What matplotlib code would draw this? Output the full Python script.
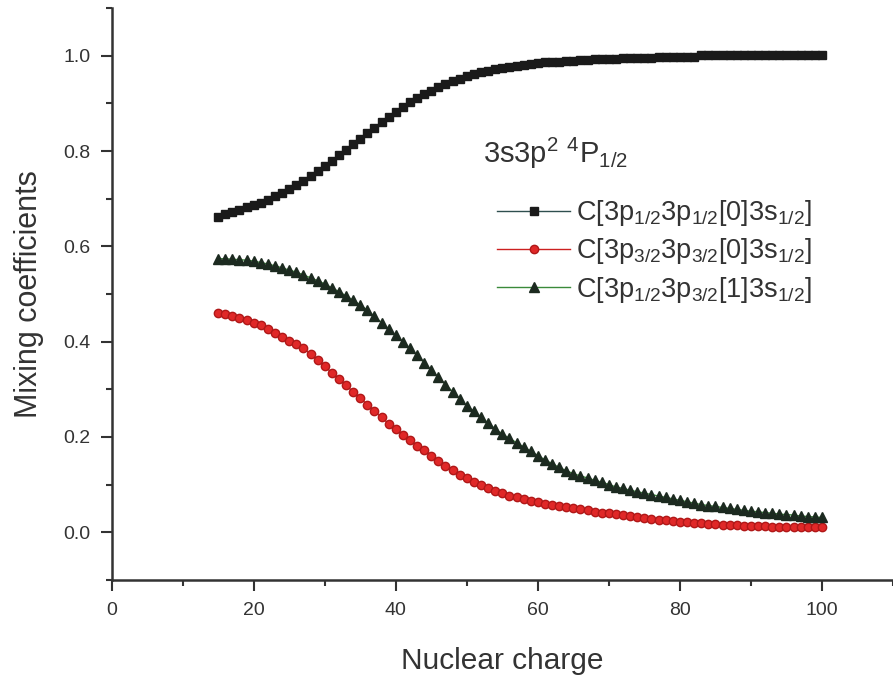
import matplotlib
matplotlib.use('Agg')
import matplotlib.pyplot as plt
import numpy as np

plt.rcParams['font.family'] = ['Liberation Sans', 'DejaVu Sans']
plt.rcParams['mathtext.fontset'] = 'custom'
plt.rcParams['mathtext.rm'] = 'Liberation Sans'
plt.rcParams['mathtext.it'] = 'Liberation Sans'

Z = np.arange(15, 101)

c_p12p12 = [0.662, 0.667, 0.672, 0.677, 0.682, 0.687, 0.692, 0.698, 0.705, 0.712,
            0.720, 0.729, 0.738, 0.748, 0.758, 0.769, 0.780, 0.791, 0.803, 0.815,
            0.826, 0.838, 0.849, 0.860, 0.871, 0.882, 0.892, 0.902, 0.911, 0.919,
            0.927, 0.934, 0.941, 0.947, 0.952, 0.957, 0.961, 0.965, 0.969, 0.972,
            0.975, 0.977, 0.979, 0.981, 0.983, 0.984, 0.986, 0.987, 0.988, 0.989,
            0.990, 0.991, 0.992, 0.993, 0.993, 0.994, 0.994, 0.995, 0.995, 0.996,
            0.996, 0.996, 0.997, 0.997, 0.997, 0.998, 0.998, 0.998, 1.001, 1.001,
            1.001, 1.001, 1.001, 1.001, 1.001, 1.001, 1.001, 1.001, 1.001, 1.001,
            1.001, 1.001, 1.001, 1.001, 1.001, 1.001]

c_p32p32 = [0.461, 0.458, 0.454, 0.450, 0.445, 0.440, 0.434, 0.427, 0.419, 0.410,
            0.401, 0.396, 0.386, 0.374, 0.361, 0.348, 0.335, 0.322, 0.308, 0.295,
            0.281, 0.268, 0.254, 0.241, 0.228, 0.216, 0.204, 0.193, 0.182, 0.172,
            0.161, 0.150, 0.140, 0.130, 0.121, 0.113, 0.106, 0.099, 0.093, 0.087,
            0.082, 0.077, 0.073, 0.069, 0.066, 0.063, 0.060, 0.058, 0.055, 0.053,
            0.050, 0.048, 0.046, 0.043, 0.041, 0.040, 0.038, 0.036, 0.034, 0.032,
            0.030, 0.028, 0.026, 0.025, 0.023, 0.022, 0.021, 0.020, 0.019, 0.018,
            0.017, 0.016, 0.015, 0.015, 0.014, 0.014, 0.013, 0.013, 0.012, 0.012,
            0.012, 0.011, 0.011, 0.011, 0.010, 0.010]

c_p12p32 = [0.574, 0.574, 0.573, 0.572, 0.571, 0.569, 0.566, 0.563, 0.559, 0.555,
            0.550, 0.546, 0.540, 0.534, 0.528, 0.521, 0.513, 0.505, 0.496, 0.487,
            0.477, 0.466, 0.453, 0.440, 0.427, 0.413, 0.400, 0.386, 0.371, 0.356,
            0.340, 0.325, 0.310, 0.295, 0.280, 0.265, 0.254, 0.242, 0.229, 0.217,
            0.206, 0.197, 0.188, 0.179, 0.170, 0.161, 0.152, 0.144, 0.136, 0.129,
            0.123, 0.118, 0.114, 0.109, 0.105, 0.100, 0.095, 0.092, 0.088, 0.085,
            0.082, 0.079, 0.076, 0.073, 0.070, 0.067, 0.064, 0.061, 0.058, 0.056,
            0.054, 0.052, 0.050, 0.048, 0.046, 0.044, 0.043, 0.041, 0.040, 0.038,
            0.037, 0.036, 0.034, 0.033, 0.032, 0.031]

labels = [r'C[3p$\mathregular{_{1/2}}$3p$\mathregular{_{1/2}}$[0]3s$\mathregular{_{1/2}}$]',
          r'C[3p$\mathregular{_{3/2}}$3p$\mathregular{_{3/2}}$[0]3s$\mathregular{_{1/2}}$]',
          r'C[3p$\mathregular{_{1/2}}$3p$\mathregular{_{3/2}}$[1]3s$\mathregular{_{1/2}}$]']

fig = plt.figure(figsize=(8.93, 6.79), dpi=100)
ax = fig.add_axes([0.125, 0.146, 0.875, 0.842])

ax.plot(Z, c_p12p12, color='#2f4f4f', lw=1, marker='s', ms=6,
        mfc='#1a1a1a', mec='#1a1a1a', label=labels[0])
ax.plot(Z, c_p32p32, color='#cc2020', lw=1, marker='o', ms=6,
        mfc='#e02828', mec='#b01818', label=labels[1])
ax.plot(Z, c_p12p32, color='#3a8a3a', lw=1, marker='^', ms=7,
        mfc='#1c2a20', mec='#1c2a20', label=labels[2])

ax.set_xlim(0, 110)
ax.set_ylim(-0.1, 1.1)
ax.set_xticks(np.arange(0, 101, 20))
ax.set_xticks(np.arange(0, 111, 10), minor=True)
ax.set_yticks([0.0, 0.2, 0.4, 0.6, 0.8, 1.0])
ax.set_yticks(np.arange(-0.1, 1.11, 0.1), minor=True)
ax.yaxis.set_major_formatter(matplotlib.ticker.FormatStrFormatter('%.1f'))
ax.tick_params(which='both', direction='out', width=1.5, colors='#333333',
               labelsize=14, labelcolor='#333333')
ax.tick_params(which='major', length=8)
ax.tick_params(which='minor', length=4)
ax.tick_params(axis='y', which='major', pad=7)
ax.tick_params(axis='x', which='major', pad=8)

for s in ['top', 'right']:
    ax.spines[s].set_visible(False)
for s in ['left', 'bottom']:
    ax.spines[s].set_linewidth(1.8)
    ax.spines[s].set_color('#333333')

ax.set_xlabel('Nuclear charge', fontsize=21.5, color='#333333', labelpad=20)
ax.set_ylabel('Mixing coefficients', fontsize=22, color='#333333', labelpad=14)

ax.text(52.3, 0.775, r'3s3p$\mathregular{^{2}}$ $\mathregular{^{4}}$P$\mathregular{_{1/2}}$',
        fontsize=21, color='#333333')

leg = ax.legend(loc='upper left', bbox_to_anchor=(0.462, 0.71), frameon=False,
                fontsize=19.5, handlelength=2.7, handletextpad=0.2,
                labelspacing=0.3, markerscale=1.0)
for t in leg.get_texts():
    t.set_color('#333333')

fig.savefig('out.png', dpi=100)
